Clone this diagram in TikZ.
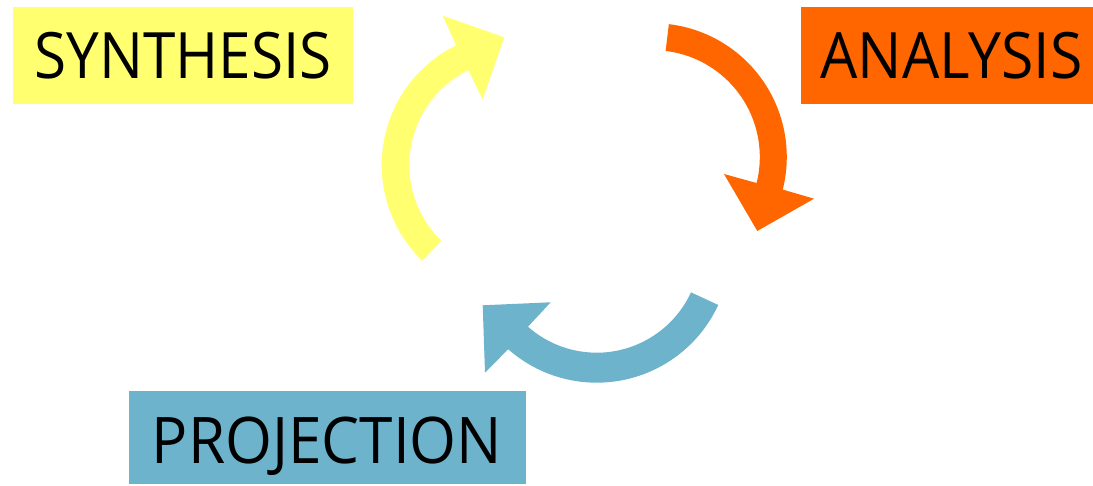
\documentclass[tikz,border=0pt]{standalone}
\usepackage{fontspec}
\setmainfont{Open Sans}
\usetikzlibrary{calc}
\definecolor{synY}{RGB}{255,255,112}
\definecolor{anaO}{RGB}{255,102,0}
\definecolor{proB}{RGB}{110,179,204}
\begin{document}
\begin{tikzpicture}[x=1pt,y=1pt,
  box/.style={draw=none,inner sep=0pt,outer sep=0pt,anchor=south west},
  label/.style={inner sep=0pt,outer sep=0pt,anchor=base west,text=black}]
\useasboundingbox (0,0) rectangle (1093,485);
% boxes
\node[box,fill=synY,minimum width=339.5pt,minimum height=96.7pt] (synbox) at (13,381.3) {};
\node[box,fill=anaO,minimum width=292pt,minimum height=97pt] (anabox) at (801,381) {};
\node[box,fill=proB,minimum width=396.8pt,minimum height=93.3pt] (probox) at (129,0.7) {};
% labels
\node[label] (syntxt) at (34.4,406) {\resizebox{297.1pt}{46.3pt}{SYNTHESIS}};
\node[label] (anatxt) at (820.4,406) {\resizebox{261.8pt}{46.3pt}{ANALYSIS}};
\node[label] (protxt) at (151.8,21.7) {\resizebox{350.4pt}{46.6pt}{PROJECTION}};
% centres of the circular arrows
\coordinate (cy) at (515,320);
\coordinate (co) at (653,328);
\coordinate (cb) at (596.7,236.2);
% yellow arrow (synthesis)
\fill[synY] ($(cy)+(225.9:133.3)$) arc[start angle=225.9,end angle=116.2,radius=133.3]
  -- (442.7,469.3) -- (504.3,447.7) -- (482.7,385.7)
  -- ($(cy)+(116.2:105.7)$) arc[start angle=116.2,end angle=225.9,radius=105.7] -- cycle;
% orange arrow (analysis)
\fill[anaO] ($(co)+(83.2:133.8)$) arc[start angle=83.2,end angle=-14.1,radius=133.8]
  -- (814,286.3) -- (757.3,254) -- (724,311)
  -- ($(co)+(-14.1:106.8)$) arc[start angle=-14.1,end angle=83.2,radius=106.8] -- cycle;
% blue arrow (projection)
\fill[proB] ($(cb)+(-24.8:133.9)$) arc[start angle=-24.8,end angle=-131.4,radius=133.9]
  -- (485,112.3) -- (482.7,179.7) -- (550.7,182.7)
  -- ($(cb)+(-131.4:103.9)$) arc[start angle=-131.4,end angle=-24.8,radius=103.9] -- cycle;
\end{tikzpicture}
\end{document}
